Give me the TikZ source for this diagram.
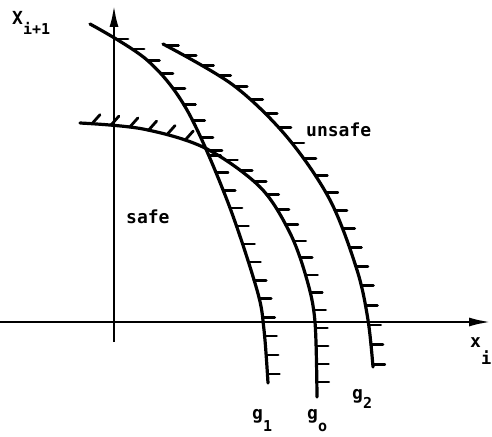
\documentclass[tikz,border=0pt]{standalone}
\usepackage{fontspec}
\newfontfamily\mono{DejaVu Sans Mono}
\usetikzlibrary{decorations.markings,arrows.meta}
\begin{document}
\begin{tikzpicture}[x=1pt,y=-1pt,
  curve/.style={line width=3.2pt,line cap=round,line join=round},
  axis/.style={line width=2.6pt,-{Latex[length=22pt,width=9pt]}},
  tickline/.style={line width=2.8pt},
  lab/.style={inner sep=0pt,anchor=base west,font=\mono\bfseries\fontsize{18}{18}\selectfont},
  htick/.style n args={3}{postaction={decorate},decoration={markings,
    mark=between positions #1 and #2 step #3 with {\pgftransformresetnontranslations
      \draw[tickline] (0,0) -- (12,0);}}}
]
\useasboundingbox (0,0) rectangle (492,436);
% axes
\coordinate (hl) at (0,322);
\coordinate (hr) at (491,322);
\coordinate (vb) at (114,342);
\coordinate (vt) at (114,5);
\draw[axis] (hl) -- (hr);
\draw[axis] (vb) -- (vt);
% g1
\draw[curve,htick={30pt}{1}{19pt}] plot[smooth,tension=0.55] coordinates
  {(90,24) (147,60) (187,110) (227,200) (257,290) (264,330) (268,383)};
% g0
\draw[curve,postaction={decorate},decoration={markings,
    mark=between positions 12pt and 112pt step 19pt with {\pgftransformresetnontranslations
      \draw[tickline] (0,0) -- (8,-9);},
    mark=between positions 134pt and 1 step 18pt with {\pgftransformresetnontranslations
      \draw[tickline] (0,0) -- (12,0);}}]
  plot[smooth,tension=0.55] coordinates
  {(80,123) (143,129) (205,148) (260,187) (290,233) (307,280) (315,322) (317,397)};
% g2
\draw[curve,htick={4pt}{1}{20pt}] plot[smooth,tension=0.55] coordinates
  {(163,44) (233,85) (287,137) (330,200) (357,270) (368,320) (373,367)};
% labels
\node[lab] (lX) at (12,25) {X\raisebox{-10pt}{\fontsize{15}{15}\selectfont i+1}};
\node[lab] (lx) at (470,347) {x\raisebox{-17pt}{\fontsize{17}{17}\selectfont i}};
\node[lab] (lunsafe) at (306,136) {unsafe};
\node[lab] (lsafe) at (126,223) {safe};
\node[lab] (lg1) at (252,419) {g\raisebox{-12pt}{\fontsize{15}{15}\selectfont 1}};
\node[lab] (lg0) at (307,419) {g\raisebox{-12pt}{\fontsize{15}{15}\selectfont o}};
\node[lab] (lg2) at (352,399) {g\raisebox{-9pt}{\fontsize{15}{15}\selectfont 2}};
\end{tikzpicture}
\end{document}
